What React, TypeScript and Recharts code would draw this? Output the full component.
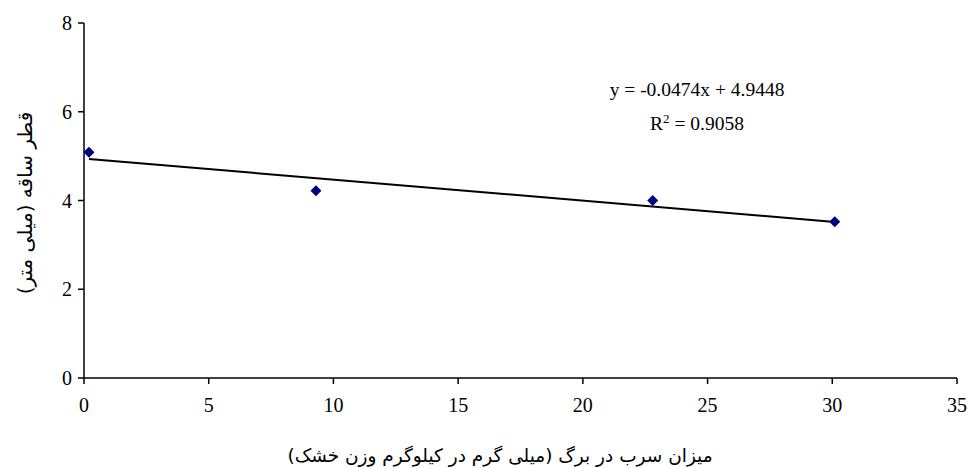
import React from 'react';
import { ScatterChart, Scatter, XAxis, YAxis } from 'recharts';

// Lead content in leaves (mg/kg dry weight) vs stem diameter (mm)
const leadContent = [0.2, 9.3, 22.8, 30.1];
const stemDiameter = [5.09, 4.22, 4.0, 3.52];

const xTicks = [0, 5, 10, 15, 20, 25, 30, 35];
const yTicks = [0, 2, 4, 6, 8];

// Linear trend fitted to the points
const slope = -0.0474;
const intercept = 4.9448;
const rSquared = 0.9058;

const points = leadContent.map((x, i) => ({ x, y: stemDiameter[i] }));
const xMin = Math.min(...leadContent);
const xMax = Math.max(...leadContent);
const trend = [
  { x: xMin, y: slope * xMin + intercept },
  { x: xMax, y: slope * xMax + intercept },
];

const serif = "'Liberation Serif', 'Times New Roman', Tinos, 'DejaVu Serif', serif";
const persian = "'DejaVu Sans', sans-serif";

const Diamond = (props: any) => {
  const { cx, cy } = props;
  if (cx == null || cy == null) return <g />;
  const r = 5.5;
  return (
    <polygon
      points={`${cx},${cy - r} ${cx + r},${cy} ${cx},${cy + r} ${cx - r},${cy}`}
      fill="#000080"
    />
  );
};

const NoDot = () => <g />;

const SerifTick = (props: any) => {
  const { x, y, payload, textAnchor } = props;
  return (
    <text
      x={x}
      y={y}
      textAnchor={textAnchor}
      dominantBaseline="central"
      fill="#000"
      style={{ fontFamily: serif, fontSize: 20 }}
    >
      {payload.value}
    </text>
  );
};

export default function App() {
  return (
    <div
      style={{
        position: 'fixed',
        left: 0,
        top: 0,
        width: 967,
        height: 468,
        fontFamily: serif,
        background: '#fff',
        overflow: 'visible',
      }}
    >
      <ScatterChart
        width={967}
        height={468}
        margin={{ top: 23, right: 10, bottom: 0, left: 0 }}
      >
        <XAxis
          type="number"
          dataKey="x"
          domain={[0, 35]}
          ticks={xTicks}
          height={90}
          tickSize={6}
          tickMargin={21}
          axisLine={{ stroke: '#000', strokeWidth: 1.5 }}
          tickLine={{ stroke: '#000', strokeWidth: 1.5 }}
          tick={<SerifTick />}
          allowDataOverflow
        />
        <YAxis
          type="number"
          dataKey="y"
          domain={[0, 8]}
          ticks={yTicks}
          width={84}
          tickSize={6}
          tickMargin={6}
          axisLine={{ stroke: '#000', strokeWidth: 1.5 }}
          tickLine={{ stroke: '#000', strokeWidth: 1.5 }}
          tick={<SerifTick />}
          allowDataOverflow
        />
        <Scatter
          data={trend}
          line={{ stroke: '#000', strokeWidth: 2 }}
          shape={<NoDot />}
          isAnimationActive={false}
        />
        <Scatter data={points} shape={<Diamond />} isAnimationActive={false} />
      </ScatterChart>

      <div
        style={{
          position: 'absolute',
          left: 697,
          top: 90,
          transform: 'translate(-50%, -50%)',
          fontFamily: serif,
          fontSize: 19.5,
          whiteSpace: 'nowrap',
          color: '#000',
        }}
      >
        y = {slope}x + {intercept}
      </div>
      <div
        style={{
          position: 'absolute',
          left: 697,
          top: 124,
          transform: 'translate(-50%, -50%)',
          fontFamily: serif,
          fontSize: 19.5,
          whiteSpace: 'nowrap',
          color: '#000',
        }}
      >
        R<sup style={{ fontSize: 13, verticalAlign: 'super', lineHeight: 0 }}>2</sup> = {rSquared}
      </div>

      <div
        style={{
          position: 'absolute',
          left: 500,
          top: 455,
          transform: 'translate(-50%, -50%)',
          fontFamily: persian,
          fontSize: 18.5,
          whiteSpace: 'nowrap',
          direction: 'rtl',
          color: '#000',
        }}
      >
        میزان سرب در برگ (میلی گرم در کیلوگرم وزن خشک)
      </div>
      <div
        style={{
          position: 'absolute',
          left: 25,
          top: 203,
          transform: 'translate(-50%, -50%) rotate(-90deg)',
          fontFamily: persian,
          fontSize: 20,
          whiteSpace: 'nowrap',
          direction: 'rtl',
          color: '#000',
        }}
      >
        قطر ساقه (میلی متر)
      </div>
    </div>
  );
}
